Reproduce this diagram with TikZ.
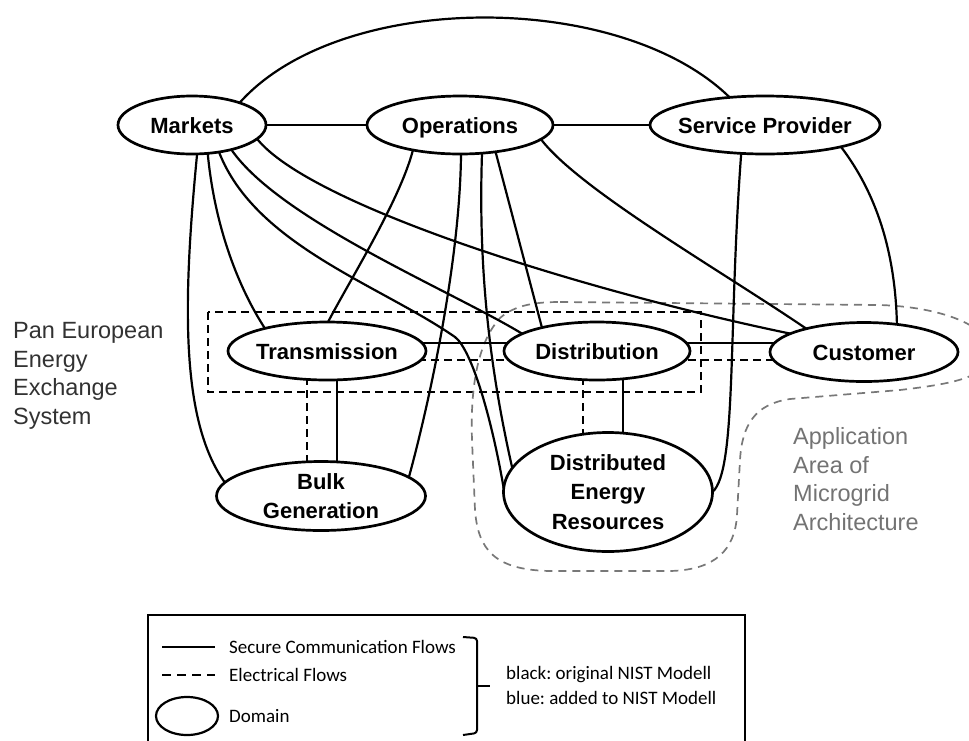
\documentclass[tikz,border=0pt]{standalone}
\usepackage{fontspec}
\setmainfont{Liberation Sans}
\newfontfamily\calfont{Carlito}
\usetikzlibrary{shapes.geometric}
\pgfdeclarelayer{bg}
\pgfsetlayers{bg,main}
\definecolor{gline}{RGB}{120,120,120}
\definecolor{gtext}{RGB}{115,115,115}
\definecolor{dtext}{RGB}{50,50,50}
\frenchspacing
\tikzset{
 dom/.style={ellipse, draw, line width=2.7pt, fill=white, inner xsep=-30pt, inner ysep=-8pt, outer sep=0pt, font=\bfseries\fontsize{22}{29.5}\selectfont, align=center},
 one/.style={text height=16pt, text depth=0pt},
 flow/.style={line width=2.2pt},
 elec/.style={line width=2.2pt, dash pattern=on 8pt off 5pt},
 zone/.style={line width=2.1pt, dash pattern=on 8pt off 5pt},
 micro/.style={draw=gline, line width=1.7pt, dash pattern=on 8pt off 6pt},
 side/.style={font=\fontsize{23.5}{28.5}\selectfont, align=left, anchor=west, inner sep=3pt},
 leg/.style={font=\calfont\frenchspacing\fontsize{19}{23}\selectfont, anchor=west, text=black, inner sep=0pt},
}
\begin{document}
\begin{tikzpicture}[x=1pt,y=-1pt]
\useasboundingbox (0,0) rectangle (969,740);
% domains
\node[dom, one, minimum width=148pt, minimum height=58pt] (M) at (192,125) {Markets};
\node[dom, one, minimum width=186pt, minimum height=58pt] (O) at (460,125) {Operations};
\node[dom, one, minimum width=230pt, minimum height=58pt] (S) at (765,125) {Service Provider};
\node[dom, one, minimum width=198pt, minimum height=58pt] (T) at (327,351) {Transmission};
\node[dom, one, minimum width=186pt, minimum height=58pt] (D) at (597,351) {Distribution};
\node[dom, one, minimum width=188pt, minimum height=59pt] (C) at (864,352) {Customer};
\node[dom, minimum width=209pt, minimum height=69pt] (B) at (321,496) {Bulk\\Generation};
\node[dom, minimum width=209pt, minimum height=119pt] (R) at (608,492) {Distributed\\Energy\\Resources};
% side texts
\node[side, text=dtext] (pan) at (10,376) {Pan European\\Energy\\Exchange\\System};
\node[side, text=gtext] (app) at (790,479) {Application\\Area of\\Microgrid\\Architecture};
\begin{pgfonlayer}{bg}
% regions
\draw[zone] (208,312) rectangle (701,392);
\draw[micro] (560,302) -- (880,305) .. controls (940,307) and (990,325) .. (990,352)
  .. controls (990,378) and (950,384) .. (900,390) -- (790,399)
  .. controls (755,404) and (742,425) .. (740,460) -- (737,515)
  .. controls (735,550) and (715,570) .. (670,571) -- (550,571)
  .. controls (495,570) and (478,550) .. (475,510) -- (472,440)
  .. controls (470,380) and (480,340) .. (500,318)
  .. controls (515,305) and (535,302) .. (560,302) -- cycle;
% communication flows
\draw[flow] (M.east) -- (O.west);
\draw[flow] (O.east) -- (S.west);
\draw[flow] (M.25) .. controls (340,-10) and (620,-10) .. (S.142);
\draw[flow] (M.-80) .. controls (183,300) and (180,420) .. (B.172);
\draw[flow] (M.-61) .. controls (215,230) and (240,290) .. (T.160);
\draw[flow] (M.-45) .. controls (255,245) and (380,285) .. (455,337) .. controls (472,350) and (492,420) .. (R.178);
\draw[flow] (M.-32) .. controls (280,220) and (450,290) .. (D.167);
\draw[flow] (M.-12) .. controls (310,205) and (580,290) .. (C.166);
\draw[flow] (O.-152) .. controls (400,200) and (350,280) .. (T.88);
\draw[flow] (O.-88) .. controls (460,260) and (430,400) .. (B.12);
\draw[flow] (O.-52) .. controls (478,270) and (490,370) .. (R.166);
\draw[flow] (O.-37.5) -- (D.157);
\draw[flow] (O.-10.5) .. controls (580,190) and (720,270) .. (C.158);
\draw[flow] (S.-130) .. controls (728,330) and (737,470) .. (R.east);
\draw[flow] (S.-16) .. controls (870,185) and (895,240) .. (C.40);
% horizontal and vertical links
\draw[flow] ([yshift=8pt]T.center) -- ([yshift=8pt]D.center);
\draw[elec] ([yshift=-9pt]T.center) -- ([yshift=-9pt]D.center);
\draw[flow] ([yshift=8pt]D.center) -- ([yshift=8pt]D.center -| C.center);
\draw[elec] ([yshift=-9pt]D.center) -- ([yshift=-9pt]D.center -| C.center);
\draw[flow] ([xshift=10pt]T.center) -- ([xshift=10pt]T.center |- B.center);
\draw[elec] ([xshift=-20pt]T.center) -- ([xshift=-20pt]T.center |- B.center);
\draw[flow] ([xshift=26pt]D.center) -- ([xshift=26pt]D.center |- R.center);
\draw[elec] ([xshift=-14pt]D.center) -- ([xshift=-14pt]D.center |- R.center);
\end{pgfonlayer}
% legend
\draw[line width=2pt] (148,742) -- (148,615) -- (745,615) -- (745,742);
\coordinate (la1) at (162,647); \coordinate (lb1) at (215,647);
\coordinate (la2) at (162,675); \coordinate (lb2) at (215,675);
\draw[flow] (la1) -- (lb1);
\draw[line width=2.2pt, dash pattern=on 9pt off 6pt] (la2) -- (lb2);
\node[ellipse, draw, line width=2.2pt, minimum width=62pt, minimum height=38pt, inner sep=0pt] (ld) at (187,716) {};
\node[leg] (t1) at (229,647) {Secure Communication Flows};
\node[leg] (t2) at (229,675) {Electrical Flows};
\node[leg] (t3) at (229,716) {Domain};
\draw[line width=2pt, rounded corners=3pt] (463,637) -- (477,638) -- (477,733) -- (463,735);
\draw[line width=2pt] (477,686) -- (490,686);
\node[leg] (k1) at (506,675) {black: original NIST Modell};
\node[leg] (k2) at (506,698) {blue: added to NIST Modell};
\end{tikzpicture}
\end{document}
